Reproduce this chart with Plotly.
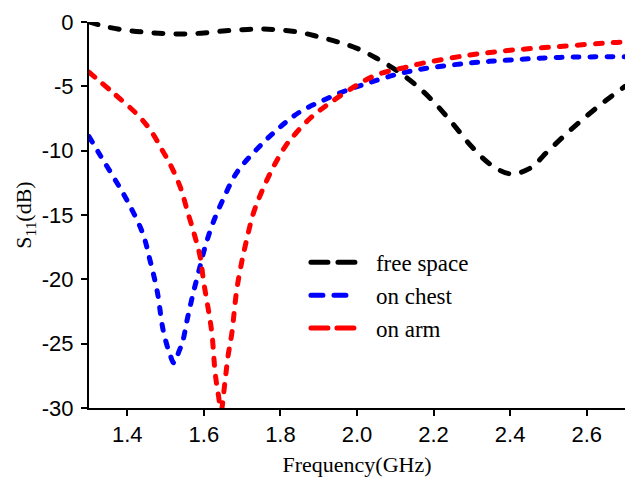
import plotly.graph_objects as go

# S11 of the antenna in free space and on the body
free_f = [1.30, 1.35, 1.40, 1.45, 1.50, 1.55, 1.60, 1.65, 1.70, 1.75, 1.80, 1.85,
          1.90, 1.95, 2.00, 2.05, 2.10, 2.15, 2.20, 2.25, 2.30, 2.35, 2.40, 2.45,
          2.50, 2.55, 2.60, 2.65, 2.70]
free_s11 = [0.0, -0.4, -0.65, -0.8, -0.9, -0.93, -0.85, -0.7, -0.6, -0.55, -0.62, -0.8,
            -1.15, -1.55, -2.05, -2.8, -3.7, -4.8, -6.2, -7.9, -9.7, -11.1, -11.8, -11.4,
            -10.0, -8.6, -7.3, -6.1, -5.0]

chest_f = [1.300, 1.330, 1.365, 1.400, 1.440, 1.460, 1.478, 1.494, 1.510, 1.522,
           1.535, 1.545, 1.556, 1.572, 1.590, 1.603, 1.624, 1.650, 1.686, 1.738,
           1.790, 1.850, 1.911, 1.974, 2.034, 2.100, 2.160, 2.290, 2.400, 2.530, 2.700]
chest_s11 = [-8.9, -10.4, -12.1, -13.9, -16.4, -18.6, -20.9, -24.0, -25.7, -26.5,
             -25.6, -24.8, -23.2, -21.1, -19.0, -17.5, -15.6, -13.8, -11.7, -9.9,
             -8.4, -7.0, -6.1, -5.3, -4.7, -4.1, -3.7, -3.2, -2.95, -2.75, -2.7]

arm_f = [1.300, 1.363, 1.433, 1.467, 1.490, 1.511, 1.538, 1.559, 1.575, 1.590,
         1.600, 1.612, 1.621, 1.630, 1.638, 1.645, 1.655, 1.663, 1.673, 1.686,
         1.700, 1.712, 1.729, 1.751, 1.781, 1.812, 1.830, 1.877, 1.929, 2.000,
         2.052, 2.130, 2.172, 2.287, 2.400, 2.530, 2.668, 2.700]
arm_s11 = [-3.9, -5.5, -7.4, -8.7, -9.9, -11.0, -12.8, -14.9, -16.5, -18.2,
           -20.3, -22.4, -24.2, -27.4, -29.0, -30.2, -28.0, -26.0, -24.2, -20.8,
           -18.5, -16.9, -14.9, -13.2, -11.3, -9.7, -9.0, -7.5, -6.3, -4.9,
           -4.1, -3.5, -3.2, -2.6, -2.2, -1.9, -1.6, -1.55]

x_ticks = [1.4, 1.6, 1.8, 2.0, 2.2, 2.4, 2.6]
x_labels = ["1.4", "1.6", "1.8", "2.0", "2.2", "2.4", "2.6"]
y_ticks = [0, -5, -10, -15, -20, -25, -30]
y_labels = ["0", "-5", "-10", "-15", "-20", "-25", "-30"]

fig = go.Figure()
fig.add_trace(go.Scatter(x=free_f, y=free_s11, mode="lines", name="free space",
                         line=dict(color="#000000", width=5, dash="9px,13px", shape="spline")))
fig.add_trace(go.Scatter(x=chest_f, y=chest_s11, mode="lines", name="on chest",
                         line=dict(color="#0000ff", width=5, dash="6px,11px", shape="spline")))
fig.add_trace(go.Scatter(x=arm_f, y=arm_s11, mode="lines", name="on arm",
                         line=dict(color="#ff0000", width=5, dash="7px,11px", shape="spline")))

axis_font = dict(family="Liberation Sans, Arial", size=22, color="#000000")
title_font = dict(family="Liberation Serif, Times New Roman", size=22, color="#000000")
legend_font = dict(family="Liberation Serif, Times New Roman", size=23, color="#000000")

fig.update_layout(
    width=625, height=480,
    margin=dict(l=89, r=0, t=22, b=72),
    paper_bgcolor="white", plot_bgcolor="white",
    showlegend=True,
    legend=dict(x=0.401, y=0.433, xanchor="left", yanchor="top",
                bgcolor="rgba(0,0,0,0)", font=legend_font, itemwidth=62,
                tracegroupgap=0),
    xaxis=dict(range=[1.3, 2.7], tickvals=x_ticks, ticktext=x_labels,
               showgrid=False, zeroline=False, showline=True, linecolor="#000000",
               linewidth=2, ticks="outside", ticklen=6, tickwidth=2, tickcolor="#000000",
               tickfont=axis_font,
               title=dict(text="Frequency(GHz)", font=title_font, standoff=10)),
    yaxis=dict(range=[-30, 0], tickvals=y_ticks, ticktext=y_labels,
               showgrid=False, zeroline=False, showline=True, linecolor="#000000",
               linewidth=2, ticks="outside", ticklen=6, tickwidth=2, tickcolor="#000000",
               tickfont=axis_font, ticklabelstandoff=3,
               title=dict(text="S<sub>11</sub>(dB)", font=title_font, standoff=4)),
)

# rounded dash ends; shorter legend samples with two long dashes each
post = """
document.querySelectorAll('path.js-line').forEach(function (p) {
    p.style.strokeLinecap = 'round';
});
var legendDash = ['17px,10px', '12px,11px', '17px,9px'];
document.querySelectorAll('.legend .traces').forEach(function (g, i) {
    var p = g.querySelector('.legendlines path');
    if (p) {
        p.setAttribute('d', 'M7,0h46');
        p.style.strokeDasharray = legendDash[i % legendDash.length];
    }
});
"""

fig.write_html("out.html", post_script=post)
